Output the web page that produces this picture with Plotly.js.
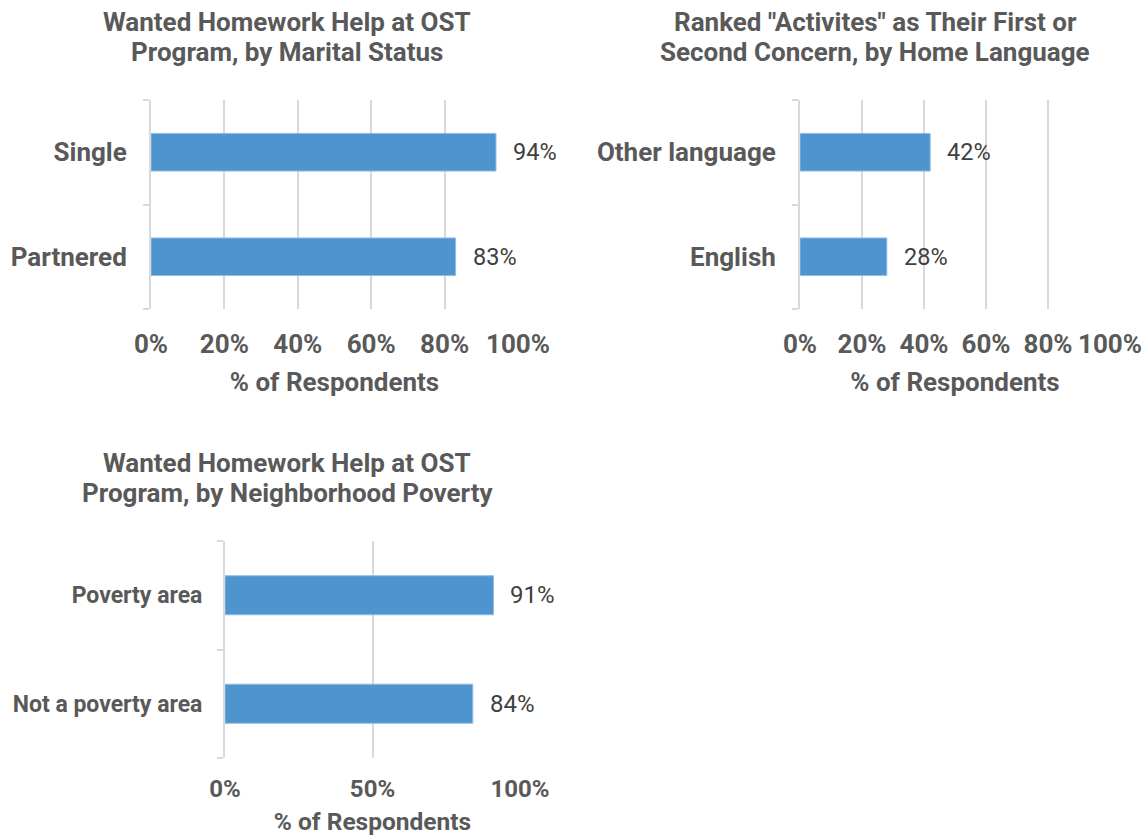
<!DOCTYPE html>
<html>
<head>
<meta charset="utf-8">
<script src="https://cdn.plot.ly/plotly-3.0.1.min.js"></script>
<style>html,body{margin:0;padding:0;background:#fff;}#chart{width:1147px;height:836px;}</style>
</head>
<body>
<div id="chart"></div>
<script>
// ---- Data ----
const maritalCategories = ["Partnered", "Single"];
const maritalValues = [83, 94];

const languageCategories = ["English", "Other language"];
const languageValues = [28, 42];

const povertyCategories = ["Not a poverty area", "Poverty area"];
const povertyValues = [84, 91];

const titles = [
  "Wanted Homework Help at OST<br>Program, by Marital Status",
  "Ranked \"Activites\" as Their First or<br>Second Concern, by Home Language",
  "Wanted Homework Help at OST<br>Program, by Neighborhood Poverty"
];
const xAxisTitle = "% of Respondents";

// ---- Styling ----
const FONT = "Roboto, 'Liberation Sans', sans-serif";
const TXT = "#595959";
const LBL = "#404040";
const GRID = "#d9d9d9";
const BAR = "#4e94cf";
const W = 1147, H = 836;

function barTrace(cats, vals, xa, ya) {
  return {
    type: "bar", orientation: "h", y: cats, x: vals,
    xaxis: xa, yaxis: ya,
    marker: {color: BAR, line: {color: "#8fbde6", width: 1}},
    hoverinfo: "skip", showlegend: false
  };
}

const data = [
  barTrace(maritalCategories, maritalValues, "x", "y"),
  barTrace(languageCategories, languageValues, "x2", "y2"),
  barTrace(povertyCategories, povertyValues, "x3", "y3")
];

function xAxis(domain, dtick, anchor, tickSize, titleSize, standoff) {
  return {
    domain: domain, anchor: anchor, range: [0, 100], dtick: dtick, ticksuffix: "%",
    showgrid: true, gridcolor: GRID, gridwidth: 2, zeroline: false, showline: false,
    ticks: "", ticklabelstandoff: standoff,
    tickfont: {family: FONT, size: tickSize, color: TXT, weight: "bold"},
    title: {text: xAxisTitle, font: {family: FONT, size: titleSize, color: TXT, weight: "bold"}, standoff: 14},
    fixedrange: true
  };
}
function yAxis(domain, anchor, tickSize, standoff) {
  return {
    domain: domain, anchor: anchor, type: "category", range: [-0.5, 1.5],
    showline: true, linecolor: GRID, linewidth: 2,
    ticks: "outside", tickson: "boundaries", ticklen: 6, tickcolor: GRID, tickwidth: 2,
    ticklabelstandoff: standoff, showgrid: false, zeroline: false,
    tickfont: {family: FONT, size: tickSize, color: TXT, weight: "bold"},
    fixedrange: true
  };
}

const topDom = [(H - 309) / H, (H - 100) / H];
const botDom = [(H - 758) / H, (H - 541) / H];

const layout = {
  width: W, height: H,
  margin: {l: 0, r: 0, t: 0, b: 0},
  paper_bgcolor: "#ffffff", plot_bgcolor: "#ffffff",
  bargap: 0.64,
  xaxis: xAxis([151 / W, 518 / W], 20, "y", 26, 26, 17),
  yaxis: yAxis(topDom, "x", 26, 17),
  xaxis2: xAxis([800 / W, 1110 / W], 20, "y2", 26, 26, 17),
  yaxis2: yAxis(topDom, "x2", 26, 17),
  xaxis3: xAxis([225 / W, 520 / W], 50, "y3", 24, 24.5, 14),
  yaxis3: yAxis(botDom, "x3", 23, 16),
  annotations: [],
  showlegend: false
};

// titles (each line placed separately for tighter line spacing)
const titleCenters = [[287, 22], [875, 22], [287, 463]];
const LINE_GAP = 30;
titles.forEach((t, i) => {
  t.split("<br>").forEach((line, j) => {
    layout.annotations.push({
      xref: "paper", yref: "paper",
      x: titleCenters[i][0] / W, y: 1 - (titleCenters[i][1] + j * LINE_GAP) / H,
      xanchor: "center", yanchor: "middle", showarrow: false, text: line,
      font: {family: FONT, size: 26, color: TXT, weight: "bold"}
    });
  });
});

// data labels
function addLabels(cats, vals, xa, ya, size) {
  cats.forEach((c, i) => {
    layout.annotations.push({
      xref: xa, yref: ya, x: vals[i], y: c, xanchor: "left", yanchor: "middle",
      xshift: 15, showarrow: false, text: vals[i] + "%",
      font: {family: FONT, size: size, color: LBL}
    });
  });
}
addLabels(maritalCategories, maritalValues, "x", "y", 23.5);
addLabels(languageCategories, languageValues, "x2", "y2", 23.5);
addLabels(povertyCategories, povertyValues, "x3", "y3", 24);

Plotly.newPlot("chart", data, layout, {displayModeBar: false, staticPlot: true});
</script>
</body>
</html>
